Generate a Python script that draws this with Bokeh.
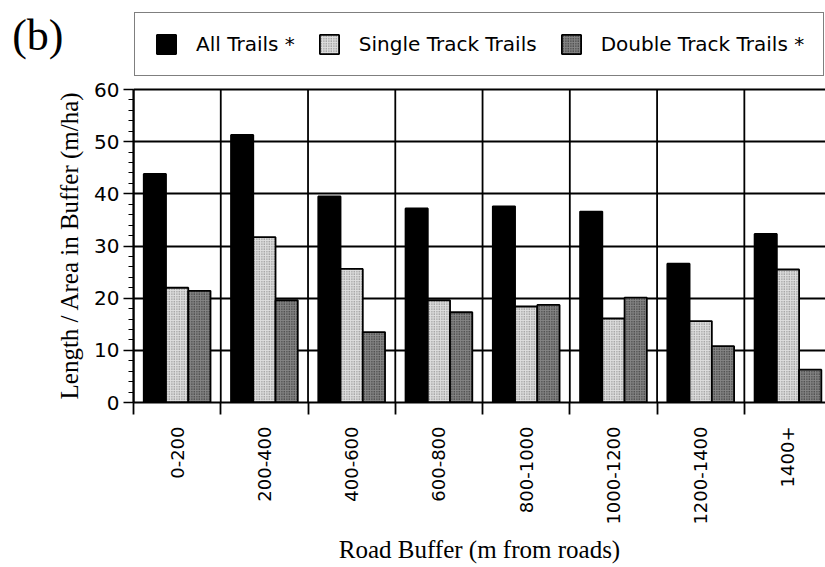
import math
from bokeh.plotting import figure
from bokeh.models import ColumnDataSource, FixedTicker, Legend, LegendItem, LinearAxis, Range1d
from bokeh.embed import file_html
from bokeh.resources import INLINE

categories = ["0-200", "200-400", "400-600", "600-800", "800-1000", "1000-1200", "1200-1400", "1400+"]
all_trails = [43.8, 51.3, 39.5, 37.2, 37.6, 36.6, 26.6, 32.3]
single_track = [22.0, 31.7, 25.6, 19.6, 18.4, 16.1, 15.6, 25.5]
double_track = [21.4, 19.6, 13.5, 17.3, 18.7, 20.1, 10.8, 6.3]
y_ticks = [0, 10, 20, 30, 40, 50, 60]
series_names = ["All Trails *", "Single Track Trails", "Double Track Trails *"]
panel_tag = "(b)"

n = len(categories)
centers = [i + 0.5 for i in range(n)]
bounds = list(range(n + 1))
bw = 0.255

# layout constants (pixels)
W, H = 825, 567
frame_left, frame_bottom = 133, 402
px_per_unit = 313 / 60.0
y_top = frame_bottom / px_per_unit          # frame reaches the top of the canvas
tag_pos = (frame_bottom - 35) / px_per_unit  # vertical centre of "(b)"

src = ColumnDataSource(dict(
    xa=[c - bw for c in centers], xs=centers, xd=[c + bw for c in centers],
    a=all_trails, s=single_track, d=double_track))
gsrc = ColumnDataSource(dict(x=bounds, y0=[y_ticks[0]] * len(bounds), y1=[y_ticks[-1]] * len(bounds)))

p = figure(width=W, height=H, output_backend="svg", toolbar_location=None,
           x_range=Range1d(0, 7.93), y_range=Range1d(0, y_top),
           min_border_left=frame_left, min_border_right=0, min_border_top=0,
           min_border_bottom=H - frame_bottom)

# vertical grid lines between groups (0..60 only)
p.segment(x0="x", y0="y0", x1="x", y1="y1", source=gsrc, line_color="black",
          line_width=1.8, level="underlay")

r1 = p.vbar(x="xa", top="a", bottom=0, width=bw, source=src,
            fill_color="black", line_color="black", line_width=1.8)
r2 = p.vbar(x="xs", top="s", bottom=0, width=bw, source=src,
            fill_color="#dedede", line_color="black", line_width=1.8,
            hatch_pattern="dot", hatch_color="#6a6a6a", hatch_scale=2.5, hatch_weight=0.8)
r3 = p.vbar(x="xd", top="d", bottom=0, width=bw, source=src,
            fill_color="#858585", line_color="black", line_width=1.8,
            hatch_pattern="dot", hatch_color="#1a1a1a", hatch_scale=2.5, hatch_weight=0.9)

# x axis
p.xaxis.ticker = FixedTicker(ticks=centers, minor_ticks=bounds)
p.xaxis.major_label_overrides = {c: cat for c, cat in zip(centers, categories)}
p.xaxis.major_tick_out = 0
p.xaxis.major_tick_in = 0
p.xaxis.minor_tick_out = 12
p.xaxis.minor_tick_in = 0
p.xaxis.minor_tick_line_width = 1.8
p.xaxis.minor_tick_line_color = "black"
p.xaxis.major_label_orientation = math.pi / 2
p.xaxis.major_label_standoff = 12
p.xaxis.major_label_text_font = "DejaVu Sans"
p.xaxis.major_label_text_font_size = "18px"
p.xaxis.major_label_text_color = "black"
p.xaxis.axis_label = "Road Buffer (m from roads)"
p.xaxis.axis_label_text_font = "Liberation Serif"
p.xaxis.axis_label_text_font_size = "25px"
p.xaxis.axis_label_text_font_style = "normal"
p.xaxis.axis_label_text_color = "black"
p.xaxis.axis_label_standoff = 8
p.xaxis.axis_line_width = 2.2
p.xaxis.axis_line_color = "black"

# y axis
yax = p.yaxis[0]
yax.bounds = (y_ticks[0], y_ticks[-1])
yax.ticker = FixedTicker(ticks=y_ticks, minor_ticks=list(range(0, 61, 2)))
yax.major_tick_out = 10
yax.major_tick_in = 0
yax.minor_tick_out = 5
yax.minor_tick_in = 0
yax.major_tick_line_width = 1.6
yax.minor_tick_line_width = 1.2
yax.major_tick_line_color = "black"
yax.minor_tick_line_color = "black"
yax.major_label_standoff = 4
yax.major_label_text_font = "DejaVu Sans"
yax.major_label_text_font_size = "20px"
yax.major_label_text_color = "black"
yax.axis_label = "Length / Area in Buffer (m/ha)" + "\u00a0" * 14
yax.axis_label_text_font = "Liberation Serif"
yax.axis_label_text_font_size = "25px"
yax.axis_label_text_font_style = "normal"
yax.axis_label_text_color = "black"
yax.axis_label_standoff = 8
yax.axis_line_width = 2.2
yax.axis_line_color = "black"

# "(b)" panel tag as a horizontal tick label of an outer, line-less axis
tag_axis = LinearAxis(ticker=FixedTicker(ticks=[tag_pos]),
                      major_label_overrides={tag_pos: panel_tag},
                      axis_line_color=None, major_tick_line_color=None,
                      minor_tick_line_color=None, major_tick_out=0, major_tick_in=0,
                      major_label_standoff=-10,
                      major_label_text_font="Liberation Serif",
                      major_label_text_font_size="44px",
                      major_label_text_color="black")
p.add_layout(tag_axis, "left")

# grids
p.xgrid.visible = False
p.ygrid.ticker = FixedTicker(ticks=y_ticks)
p.ygrid.grid_line_color = "black"
p.ygrid.grid_line_width = 1.8
p.outline_line_color = None

legend = Legend(items=[LegendItem(label=series_names[0], renderers=[r1]),
                       LegendItem(label=series_names[1], renderers=[r2]),
                       LegendItem(label=series_names[2], renderers=[r3])],
                orientation="horizontal", location=(1, frame_bottom - 12 - 64),
                padding=19, spacing=22, glyph_width=24, glyph_height=24,
                label_standoff=18, label_text_font="DejaVu Sans", label_text_font_size="20px",
                label_text_color="black",
                border_line_color="black", border_line_width=1.6,
                background_fill_color="white", background_fill_alpha=1, margin=0)
p.add_layout(legend, "center")

open("out.html", "w").write(file_html(p, INLINE))
